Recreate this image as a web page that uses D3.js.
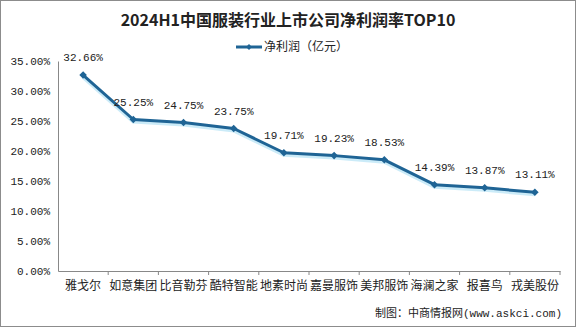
<!DOCTYPE html>
<html>
<head>
<meta charset="utf-8">
<script src="https://cdn.jsdelivr.net/npm/d3@7/dist/d3.min.js"></script>
<style>
  body { margin: 0; background: #fff; }
  svg { display: block; }
</style>
</head>
<body>
<svg id="chart" width="576" height="327"></svg>
<script>
// data
var companies = ["雅戈尔", "如意集团", "比音勒芬", "酷特智能", "地素时尚", "嘉曼服饰", "美邦服饰", "海澜之家", "报喜鸟", "戎美股份"];
var netMargin = [32.66, 25.25, 24.75, 23.75, 19.71, 19.23, 18.53, 14.39, 13.87, 13.11];
var yTicks = [0, 5, 10, 15, 20, 25, 30, 35];

var svg = d3.select("#chart");
var W = 576, H = 327;
// plot box (note: "top" is reserved on window, so use plot* names)
var plotLeft = 58, plotRight = 560, plotTop = 61, plotBottom = 271;
var mono = "'Liberation Mono', monospace";
var cjk = "'Noto Sans CJK SC'";

// outer frame
svg.append("rect")
    .attr("x", 0.5).attr("y", 0.5)
    .attr("width", W - 1).attr("height", H - 1)
    .attr("fill", "#fff")
    .attr("stroke", "#8c8c8c");

var x = d3.scaleBand().domain(companies).range([plotLeft, plotRight]);
var y = d3.scaleLinear().domain([0, 35]).range([plotBottom, plotTop]);

// title
svg.append("text")
    .attr("x", 288).attr("y", 26)
    .attr("text-anchor", "middle")
    .style("font-family", cjk)
    .style("font-weight", "bold")
    .style("font-size", "16px")
    .attr("fill", "#222")
    .text("2024H1中国服装行业上市公司净利润率TOP10");

// legend
var lg = svg.append("g").attr("transform", "translate(236,47)");
lg.append("line").attr("x1", 0).attr("x2", 26).attr("y1", 0).attr("y2", 0)
    .attr("stroke", "#1f6495").attr("stroke-width", 3);
lg.append("path").attr("d", d3.symbol(d3.symbolDiamond2, 22)())
    .attr("transform", "translate(13,0)")
    .attr("fill", "#1f6495");
lg.append("text").attr("x", 28).attr("y", 4)
    .style("font-family", cjk)
    .style("font-size", "12px")
    .attr("fill", "#222")
    .text("净利润（亿元）");

// y axis
var yAxis = d3.axisLeft(y).tickValues(yTicks).tickSize(0).tickPadding(8)
    .tickFormat(function (d) { return d.toFixed(2) + "%"; });
var gy = svg.append("g").attr("transform", "translate(" + plotLeft + ",0)").call(yAxis);
gy.select(".domain").attr("stroke", "#888");
gy.selectAll("text")
    .style("font-family", mono)
    .style("font-size", "11px")
    .attr("fill", "#222");

// x axis
var xAxis = d3.axisBottom(x).tickSize(0).tickPadding(10);
var gx = svg.append("g").attr("transform", "translate(0," + plotBottom + ")").call(xAxis);
gx.select(".domain").attr("stroke", "#888");
gx.selectAll("text")
    .style("font-family", cjk)
    .style("font-size", "12px")
    .attr("fill", "#222");
// tick marks between categories
gx.selectAll(".sep")
    .data(companies)
    .enter().append("line")
    .attr("class", "sep")
    .attr("x1", function (d) { return x(d) + x.bandwidth(); })
    .attr("x2", function (d) { return x(d) + x.bandwidth(); })
    .attr("y1", 0).attr("y2", 4)
    .attr("stroke", "#888");

var line = d3.line()
    .x(function (d, i) { return x(companies[i]) + x.bandwidth() / 2; })
    .y(function (d) { return y(d); });

// glow under the line
svg.append("path").datum(netMargin)
    .attr("d", line)
    .attr("transform", "translate(0,2)")
    .attr("fill", "none")
    .attr("stroke", "#b5e2f5")
    .attr("stroke-width", 4)
    .attr("opacity", 0.7);

svg.append("path").datum(netMargin)
    .attr("d", line)
    .attr("fill", "none")
    .attr("stroke", "#1f6495")
    .attr("stroke-width", 3)
    .attr("stroke-linejoin", "round");

svg.selectAll(".pt")
    .data(netMargin)
    .enter().append("path")
    .attr("class", "pt")
    .attr("d", d3.symbol(d3.symbolDiamond2, 36)())
    .attr("transform", function (d, i) {
      return "translate(" + (x(companies[i]) + x.bandwidth() / 2) + "," + y(d) + ")";
    })
    .attr("fill", "#1f6495");

svg.selectAll(".lbl")
    .data(netMargin)
    .enter().append("text")
    .attr("class", "lbl")
    .attr("x", function (d, i) { return x(companies[i]) + x.bandwidth() / 2; })
    .attr("y", function (d) { return y(d) - 14; })
    .attr("text-anchor", "middle")
    .style("font-family", mono)
    .style("font-size", "11px")
    .attr("fill", "#222")
    .text(function (d) { return d.toFixed(2) + "%"; });

// source note
var note = svg.append("text")
    .attr("x", 562).attr("y", 317)
    .attr("text-anchor", "end")
    .attr("fill", "#222");
note.append("tspan")
    .style("font-family", cjk)
    .style("font-size", "11px")
    .text("制图：中商情报网");
note.append("tspan")
    .style("font-family", mono)
    .style("font-size", "11px")
    .text("(www.askci.com)");
</script>
</body>
</html>
